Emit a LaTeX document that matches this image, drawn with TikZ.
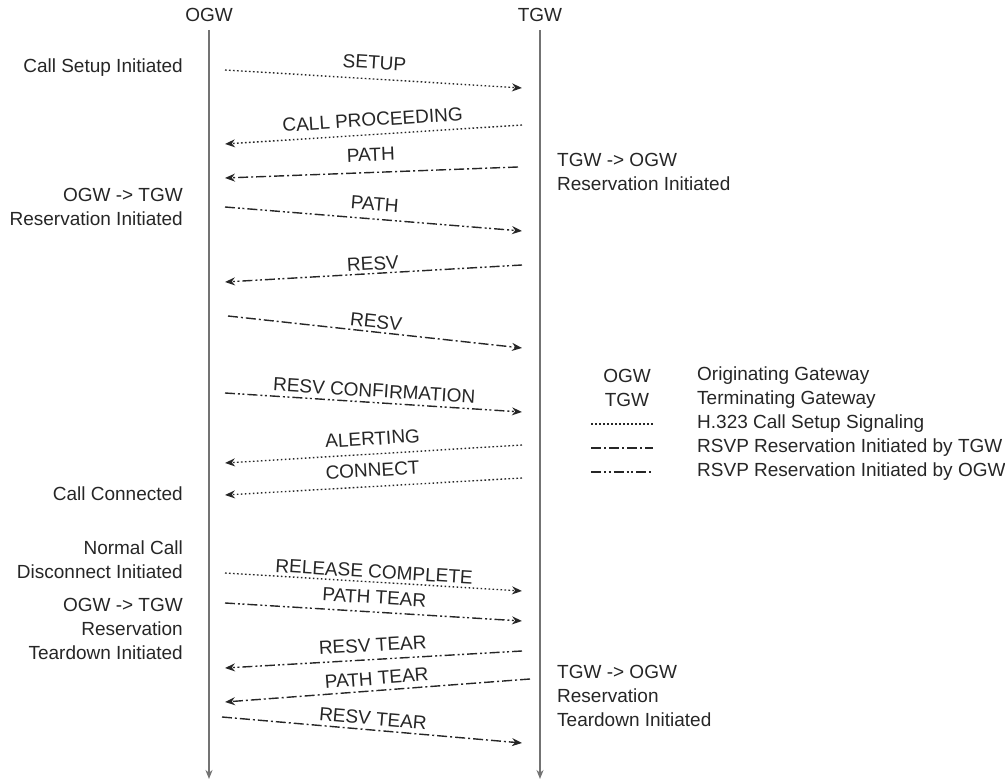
\documentclass[tikz,border=0pt]{standalone}
\usepackage{fontspec}
\setmainfont{Liberation Sans}
\usetikzlibrary{arrows.meta}
\begin{document}
\begin{tikzpicture}[x=1pt,y=-1pt,
  txt/.style={font=\fontsize{19}{24}\selectfont, text=black!85, inner sep=0pt},
  lifeline/.style={draw=black!55, line width=1.8pt, -{Stealth[length=9pt,width=7pt]}},
  msg/.style={line width=1.4pt, draw=black!85, -{Stealth[length=10pt,width=8pt]}},
  h323/.style={msg, dash pattern=on 1.6pt off 2.4pt},
  rsvpt/.style={msg, dash pattern=on 10pt off 3pt on 2pt off 3pt},
  rsvpo/.style={msg, dash pattern=on 10pt off 3pt on 2pt off 2.5pt on 2pt off 3pt},
  lbl/.style={txt, midway, sloped, above=#1, inner sep=1pt},
  lbl/.default=7pt,
  note/.style={txt, align=right, anchor=east},
  rnote/.style={txt, align=left, anchor=west}]
\path[use as bounding box] (0,0) rectangle (1005,783);

% gateways and their lifelines
\node[txt] (ogw) at (209,15) {OGW};
\node[txt] (tgw) at (540,15) {TGW};
\coordinate (ogwtop) at (209,30);
\coordinate (ogwbot) at (209,779);
\coordinate (tgwtop) at (540,30);
\coordinate (tgwbot) at (540,779);
\draw[lifeline] (ogwtop) -- (ogwbot);
\draw[lifeline] (tgwtop) -- (tgwbot);

% message end points
\coordinate (a1) at (225,70);  \coordinate (b1) at (522,88);
\coordinate (a2) at (522,125); \coordinate (b2) at (225,144);
\coordinate (a3) at (518,167); \coordinate (b3) at (225,178);
\coordinate (a4) at (225,207); \coordinate (b4) at (522,231);
\coordinate (a5) at (522,265); \coordinate (b5) at (225,282);
\coordinate (a6) at (228,316); \coordinate (b6) at (522,348);
\coordinate (a7) at (225,393); \coordinate (b7) at (522,412);
\coordinate (a8) at (522,445); \coordinate (b8) at (225,463);
\coordinate (a9) at (522,478); \coordinate (b9) at (225,495);
\coordinate (a10) at (225,573); \coordinate (b10) at (522,591);
\coordinate (a11) at (225,603); \coordinate (b11) at (522,621);
\coordinate (a12) at (522,651); \coordinate (b12) at (225,668);
\coordinate (a13) at (530,679); \coordinate (b13) at (225,702);
\coordinate (a14) at (222,717); \coordinate (b14) at (522,743);

% messages
\draw[h323]  (a1) -- node[lbl=8pt] (l1) {SETUP} (b1);
\draw[h323]  (a2) -- node[lbl=6.5pt] (l2) {CALL PROCEEDING} (b2);
\draw[rsvpt] (a3) -- node[lbl=9.5pt] (l3) {PATH} (b3);
\draw[rsvpo] (a4) -- node[lbl=7pt] (l4) {PATH} (b4);
\draw[rsvpo] (a5) -- node[lbl=1.5pt] (l5) {RESV} (b5);
\draw[rsvpt] (a6) -- node[lbl=2pt] (l6) {RESV} (b6);
\draw[rsvpo] (a7) -- node[lbl=3.5pt] (l7) {RESV CONFIRMATION} (b7);
\draw[h323]  (a8) -- node[lbl=7pt] (l8) {ALERTING} (b8);
\draw[h323]  (a9) -- node[lbl=8pt] (l9) {CONNECT} (b9);
\draw[h323]  (a10) -- node[lbl=2pt] (l10) {RELEASE COMPLETE} (b10);
\draw[rsvpo] (a11) -- node[lbl=6.5pt] (l11) {PATH TEAR} (b11);
\draw[rsvpo] (a12) -- node[lbl=6pt] (l12) {RESV TEAR} (b12);
\draw[rsvpt] (a13) -- node[lbl=4pt] (l13) {PATH TEAR} (b13);
\draw[rsvpt] (a14) -- node[lbl=3pt] (l14) {RESV TEAR} (b14);

% notes beside the OGW lifeline
\node[note] (n1) at (183,68) {Call Setup Initiated};
\node[note] (n2) at (183,206.5) {OGW -> TGW\\Reservation Initiated};
\node[note] (n3) at (183,494) {Call Connected};
\node[note] (n4) at (183,559.5) {Normal Call\\Disconnect Initiated};
\node[note] (n5) at (183,628.5) {OGW -> TGW\\Reservation\\Teardown Initiated};

% notes beside the TGW lifeline
\node[rnote] (n6) at (557,171.5) {TGW -> OGW\\Reservation Initiated};
\node[rnote] (n7) at (557,696) {TGW -> OGW\\Reservation\\Teardown Initiated};

% legend
\node[txt] (k1) at (627,376) {OGW};
\node[txt] (k2) at (627,400) {TGW};
\coordinate (k3a) at (591,424); \coordinate (k3b) at (653,424);
\coordinate (k4a) at (591,448); \coordinate (k4b) at (653,448);
\coordinate (k5a) at (591,472); \coordinate (k5b) at (653,472);
\draw[h323, -]  (k3a) -- (k3b);
\draw[rsvpt, -] (k4a) -- (k4b);
\draw[rsvpo, -] (k5a) -- (k5b);
\node[txt, anchor=west] (d1) at (697,376) {Originating Gateway};
\node[txt, anchor=west] (d2) at (697,400) {Terminating Gateway};
\node[txt, anchor=west] (d3) at (697,424) {H.323 Call Setup Signaling};
\node[txt, anchor=west] (d4) at (697,448) {RSVP Reservation Initiated by TGW};
\node[txt, anchor=west] (d5) at (697,472) {RSVP Reservation Initiated by OGW};
\end{tikzpicture}
\end{document}
